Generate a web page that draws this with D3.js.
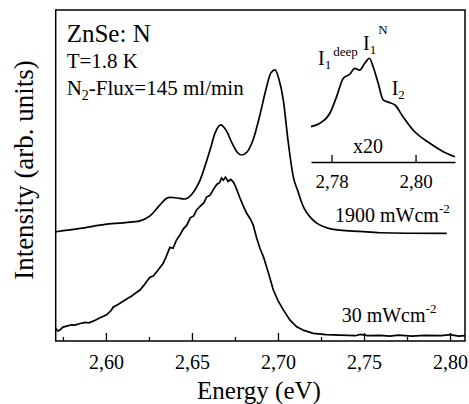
<!DOCTYPE html>
<html lang="en">
<head>
<meta charset="UTF-8">
<script src="https://cdn.jsdelivr.net/npm/d3@7"></script>
<style>
  body { margin: 0; background: #fff; }
</style>
</head>
<body>
<script>
// spectra: energy (eV), intensity (arb. units)
const highEnergy = [2.5708, 2.5850, 2.6004, 2.6157, 2.6198, 2.6256, 2.6314, 2.6353, 2.6372, 2.6413, 2.6459, 2.6500, 2.6547, 2.6605, 2.6634, 2.6667, 2.6698, 2.6733, 2.6762, 2.6789, 2.6820, 2.6855, 2.6895, 2.6930, 2.6959, 2.6983, 2.7006, 2.7031, 2.7058, 2.7089, 2.7116, 2.7147, 2.7186, 2.7225, 2.7290, 2.7360, 2.7477, 2.7593, 2.7981];
const highPower = [33.0, 34.0, 35.3, 36.0, 36.3, 37.8, 41.1, 43.1, 43.4, 43.2, 42.9, 44.4, 48.6, 57.7, 62.8, 65.3, 63.7, 59.8, 57.1, 56.2, 57.1, 60.7, 68.3, 76.0, 81.0, 81.9, 79.0, 72.8, 60.7, 49.6, 45.2, 40.6, 37.5, 35.6, 34.1, 33.5, 33.1, 32.7, 32.5];

const lowEnergy = [2.5708, 2.5720, 2.5733, 2.5750, 2.5772, 2.5800, 2.5820, 2.5850, 2.5880, 2.5900, 2.5926, 2.5960, 2.6004, 2.6030, 2.6042, 2.6070, 2.6100, 2.6120, 2.6150, 2.6175, 2.6198, 2.6220, 2.6240, 2.6256, 2.6275, 2.6300, 2.6333, 2.6350, 2.6372, 2.6390, 2.6410, 2.6430, 2.6449, 2.6470, 2.6490, 2.6510, 2.6527, 2.6550, 2.6570, 2.6585, 2.6605, 2.6625, 2.6644, 2.6660, 2.6672, 2.6682, 2.6695, 2.6710, 2.6725, 2.6740, 2.6755, 2.6779, 2.6800, 2.6818, 2.6840, 2.6856, 2.6876, 2.6895, 2.6915, 2.6945, 2.6973, 2.7000, 2.7031, 2.7070, 2.7109, 2.7150, 2.7205, 2.7280, 2.7360, 2.7450, 2.7480, 2.7520, 2.7593, 2.7650, 2.7700, 2.7780, 2.7850, 2.7950, 2.8000, 2.8050, 2.8087];
const lowPower = [3.8, 3.0, 3.3, 4.2, 4.5, 4.9, 4.8, 5.3, 5.6, 5.5, 6.0, 6.9, 7.9, 9.2, 10.2, 11.0, 12.0, 12.7, 13.6, 14.6, 15.4, 16.8, 18.2, 19.3, 19.6, 21.2, 23.5, 25.5, 28.3, 28.0, 30.5, 32.0, 33.8, 35.0, 37.2, 37.8, 39.6, 40.8, 41.8, 43.5, 44.0, 45.8, 47.3, 47.8, 49.2, 48.6, 49.5, 48.2, 48.8, 48.1, 46.5, 43.2, 40.6, 38.6, 36.8, 35.0, 31.1, 28.0, 25.5, 20.5, 15.4, 12.2, 9.4, 6.3, 4.3, 3.2, 2.3, 1.9, 1.8, 1.6, 2.0, 1.6, 1.7, 1.5, 1.8, 1.5, 1.7, 1.6, 1.9, 1.5, 1.6];

// inset (x20)
const insetEnergy = [2.7751, 2.7772, 2.7796, 2.7812, 2.7828, 2.7844, 2.7855, 2.7867, 2.7879, 2.7890, 2.7899, 2.7911, 2.7923, 2.7939, 2.7951, 2.7970, 2.7994, 2.8034, 2.8066, 2.8094];
const insetPower = [32.1, 35.2, 44.3, 59.4, 76.1, 80.0, 85.2, 83.6, 89.7, 94.3, 86.6, 71.5, 56.4, 53.9, 51.8, 41.2, 29.1, 17.0, 9.4, 4.8];

const mainTicks = [2.60, 2.65, 2.70, 2.75, 2.80];
const minorTicks = [2.575, 2.625, 2.675, 2.725, 2.775];
const insetTicks = [2.78, 2.80];

const W = 469, H = 404;
const serif = '"Liberation Serif", "Times New Roman", serif';
const svg = d3.select('body').append('svg').attr('width', W).attr('height', H);

const mLeft = 55.7, mRight = 465, mTop = 10, mBottom = 341;
const x = d3.scaleLinear().domain([2.5708, 2.8087]).range([mLeft, mRight]);
const y = d3.scaleLinear().domain([0, 100]).range([mBottom, mTop]);
const comma = d => d3.format('.2f')(d).replace('.', ',');

// frame
svg.append('rect')
  .attr('x', mLeft).attr('y', mTop)
  .attr('width', mRight - mLeft).attr('height', mBottom - mTop)
  .attr('fill', 'none').attr('stroke', '#000').attr('stroke-width', 1.5);

// bottom axis, ticks pointing inward
const xAxis = svg.append('g').attr('transform', `translate(0,${mBottom})`)
  .call(d3.axisBottom(x).tickValues(mainTicks).tickSizeInner(-8).tickSizeOuter(0).tickPadding(14).tickFormat(comma));
xAxis.select('.domain').remove();
xAxis.selectAll('.tick line').attr('stroke-width', 1.3);
xAxis.selectAll('text').attr('font-size', 20);

const xMinor = svg.append('g').attr('transform', `translate(0,${mBottom})`)
  .call(d3.axisBottom(x).tickValues(minorTicks).tickSizeInner(-4).tickSizeOuter(0).tickFormat(''));
xMinor.select('.domain').remove();
xMinor.selectAll('.tick line').attr('stroke-width', 1.3);

// curves
const line = d3.line().x(d => x(d[0])).y(d => y(d[1]));
svg.append('path')
  .datum(d3.zip(highEnergy, highPower))
  .attr('d', line.curve(d3.curveMonotoneX))
  .attr('fill', 'none').attr('stroke', '#000').attr('stroke-width', 1.7);
svg.append('path')
  .datum(d3.zip(lowEnergy, lowPower))
  .attr('d', line.curve(d3.curveLinear))
  .attr('fill', 'none').attr('stroke', '#000').attr('stroke-width', 1.7);

// axis titles
svg.append('text').attr('x', 259).attr('y', 399).attr('text-anchor', 'middle')
  .attr('font-size', 25).text('Energy (eV)');
svg.append('text').attr('transform', 'translate(33,170) rotate(-90)').attr('text-anchor', 'middle')
  .attr('font-size', 27).text('Intensity (arb. units)');

// sample info
svg.append('text').attr('x', 66.7).attr('y', 41.7).attr('font-size', 25).text('ZnSe: N');
svg.append('text').attr('x', 66.7).attr('y', 68.3).attr('font-size', 21).text('T=1.8 K');
const flux = svg.append('text').attr('x', 66.7).attr('y', 95).attr('font-size', 21);
flux.append('tspan').text('N');
flux.append('tspan').attr('font-size', 14).attr('dy', 5).text('2');
flux.append('tspan').attr('dy', -5).text('-Flux=145 ml/min');

// power labels
function powerLabel(px, py, txt) {
  const t = svg.append('text').attr('x', px).attr('y', py).attr('font-size', 20);
  t.append('tspan').text(txt);
  t.append('tspan').attr('font-size', 13).attr('dy', -9).text('-2');
}
powerLabel(335, 221.7, '1900 mWcm');
powerLabel(341.7, 321.7, '30 mWcm');

// inset
const xi = d3.scaleLinear().domain([2.7751, 2.8094]).range([311, 455]);
const yi = d3.scaleLinear().domain([0, 100]).range([162, 52]);
const inset = svg.append('g');
const iAxis = inset.append('g').attr('transform', 'translate(0,162)')
  .call(d3.axisBottom(xi).tickValues(insetTicks).tickSizeInner(-7).tickSizeOuter(0).tickPadding(13).tickFormat(comma));
iAxis.select('.domain').attr('stroke-width', 1.5);
iAxis.selectAll('.tick line').attr('stroke-width', 1.3);
iAxis.selectAll('text').attr('font-size', 19);

inset.append('path')
  .datum(d3.zip(insetEnergy, insetPower))
  .attr('d', d3.line().x(d => xi(d[0])).y(d => yi(d[1])).curve(d3.curveMonotoneX))
  .attr('fill', 'none').attr('stroke', '#000').attr('stroke-width', 1.7);

inset.append('text').attr('x', 353).attr('y', 153).attr('font-size', 20).text('x20');

function peakLabel(px, py, sub, sup, supDy) {
  const t = inset.append('text').attr('x', px).attr('y', py).attr('font-size', 20);
  t.append('tspan').text('I');
  t.append('tspan').attr('font-size', 13).attr('dy', 4).text(sub);
  if (sup) t.append('tspan').attr('font-size', 13).attr('dy', supDy).attr('dx', 2).text(sup);
}
peakLabel(318, 65, '1', 'deep', -13);
peakLabel(363, 50, '1', 'N', -20);
peakLabel(391.7, 95, '2', null, 0);

// serif everywhere, including the axis labels d3 styles itself
svg.selectAll('text').style('font-family', serif).style('fill', '#000');
</script>
</body>
</html>
